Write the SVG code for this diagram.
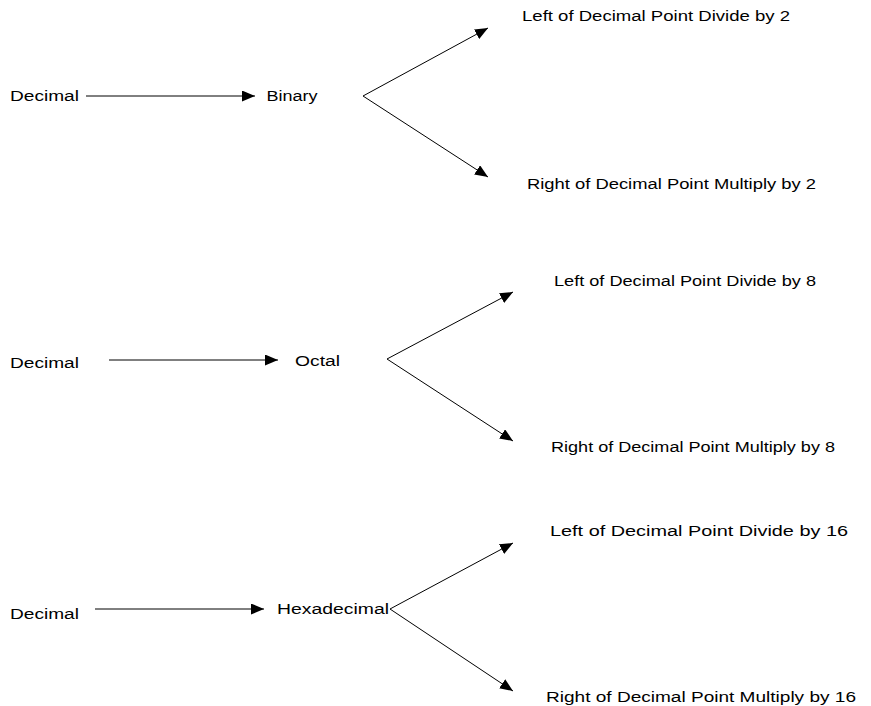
<svg xmlns="http://www.w3.org/2000/svg" width="871" height="706" viewBox="0 0 871 706">
<defs>
<style>
text { font-family: "Liberation Sans", Arial, sans-serif; font-size: 14px; fill: #000; }
.c { stroke: #000; stroke-width: 1; fill: none; marker-end: url(#ah); }
</style>
<marker id="ah" markerWidth="13" markerHeight="11" refX="13" refY="5.5" orient="auto" markerUnits="userSpaceOnUse"><path d="M0,0 L13,5.5 L0,11 Z" fill="#000"/></marker>
</defs>
<rect width="871" height="706" fill="#fff"/>
<g id="connectors">
<line class="c" x1="86" y1="96" x2="255" y2="96"/>
<line class="c" x1="363" y1="96" x2="488" y2="28"/>
<line class="c" x1="363" y1="96" x2="488" y2="177"/>
<line class="c" x1="109" y1="360" x2="278" y2="360"/>
<line class="c" x1="387" y1="359" x2="513" y2="292"/>
<line class="c" x1="387" y1="359" x2="513" y2="441"/>
<line class="c" x1="95" y1="609" x2="264" y2="609"/>
<line class="c" x1="390" y1="609" x2="513" y2="543"/>
<line class="c" x1="390" y1="609" x2="513" y2="691"/>
</g>
<g id="decimal1"><text x="10" y="101" textLength="69" lengthAdjust="spacingAndGlyphs">Decimal</text></g>
<g id="binary"><text x="266.5" y="101" textLength="51" lengthAdjust="spacingAndGlyphs">Binary</text></g>
<g id="left2"><text x="522" y="21" textLength="268" lengthAdjust="spacingAndGlyphs">Left of Decimal Point Divide by 2</text></g>
<g id="right2"><text x="527" y="189" textLength="289" lengthAdjust="spacingAndGlyphs">Right of Decimal Point Multiply by 2</text></g>
<g id="decimal2"><text x="10" y="368" textLength="69" lengthAdjust="spacingAndGlyphs">Decimal</text></g>
<g id="octal"><text x="295" y="366" textLength="45" lengthAdjust="spacingAndGlyphs">Octal</text></g>
<g id="left8"><text x="554" y="286" textLength="262" lengthAdjust="spacingAndGlyphs">Left of Decimal Point Divide by 8</text></g>
<g id="right8"><text x="551" y="452" textLength="284" lengthAdjust="spacingAndGlyphs">Right of Decimal Point Multiply by 8</text></g>
<g id="decimal3"><text x="10" y="619" textLength="69" lengthAdjust="spacingAndGlyphs">Decimal</text></g>
<g id="hexadecimal"><text x="277" y="614" textLength="112" lengthAdjust="spacingAndGlyphs">Hexadecimal</text></g>
<g id="left16"><text x="550" y="536" textLength="298" lengthAdjust="spacingAndGlyphs">Left of Decimal Point Divide by 16</text></g>
<g id="right16"><text x="546" y="702" textLength="310" lengthAdjust="spacingAndGlyphs">Right of Decimal Point Multiply by 16</text></g>
</svg>
